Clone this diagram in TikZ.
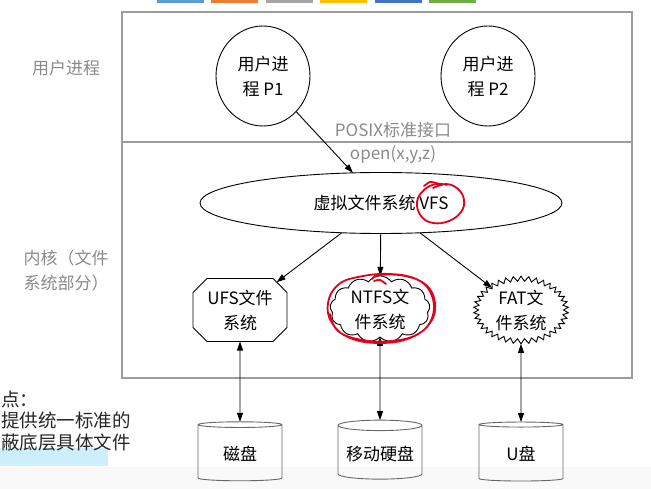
\documentclass[tikz,border=0pt]{standalone}
\usepackage{fontspec}
\setmainfont{Noto Sans CJK SC}
\usepackage{tikz}
\usetikzlibrary{arrows.meta,positioning,shapes.geometric,shapes.misc,shapes.symbols}
\definecolor{frame}{HTML}{9C9C9C}
\definecolor{labelgray}{HTML}{8A8A8A}
\definecolor{pen}{HTML}{E3001B}
\definecolor{hilite}{HTML}{CDEEFB}
\definecolor{barA}{HTML}{5B9BD5}
\definecolor{barB}{HTML}{ED7D31}
\definecolor{barC}{HTML}{A5A5A5}
\definecolor{barD}{HTML}{FFC000}
\definecolor{barE}{HTML}{4472C4}
\definecolor{barF}{HTML}{70AD47}
\newcommand{\diagfont}{\fontsize{17}{25}\selectfont}
\tikzset{
  procnode/.style={ellipse,draw,line width=0.9pt,outer sep=0pt,inner sep=0pt,
    minimum width=94pt,minimum height=100pt,align=center,font=\diagfont},
  vfsnode/.style={ellipse,draw,line width=0.9pt,outer sep=0pt,
    minimum width=362pt,minimum height=61pt,font=\diagfont},
  fsbox/.style={chamfered rectangle,chamfered rectangle sep=7pt,draw,
    line width=0.9pt,outer sep=0pt,inner sep=0pt,minimum width=94pt,
    minimum height=63pt,align=center,font=\diagfont},
  fscloud/.style={cloud,cloud puffs=13,cloud puff arc=110,cloud ignores aspect,
    draw,line width=0.9pt,outer sep=0pt,inner sep=0pt,minimum width=100pt,
    minimum height=62pt,align=center,font=\diagfont},
  fsburst/.style={starburst,starburst points=38,starburst point height=5pt,
    random starburst=0,draw,line width=0.9pt,outer sep=0pt,inner sep=0pt,
    minimum width=95pt,minimum height=65pt,align=center,font=\diagfont},
  drive/.style={cylinder,shape border rotate=90,aspect=0.14,draw=black!60,
    line width=0.9pt,outer sep=0pt,minimum width=84pt,minimum height=59pt,
    font=\diagfont},
  sidelabel/.style={text=labelgray,align=left,font=\diagfont},
  ifacelabel/.style={text=labelgray,font=\diagfont},
  arrow/.style={-{Triangle[length=9pt,width=6pt]},line width=0.9pt},
  dblarrow/.style={{Triangle[length=9pt,width=6pt]}-{Triangle[length=9pt,width=6pt]},
    line width=0.9pt},
  redpen/.style={draw=pen,line width=1.8pt,line cap=round,line join=round}
}

\begin{document}
\begin{tikzpicture}[x=1pt,y=-1pt]
  \useasboundingbox (0,0) rectangle (651,489);
  \fill[black!2.5] (0,467) rectangle (651,489);
  % tab strip at the top
  \foreach \i/\c in {0/barA,1/barB,2/barC,3/barD,4/barE,5/barF}
    \fill[\c] (157+\i*54.4,0) rectangle ++(47,3);

  % layers
  \draw[frame,line width=1.2pt] (122,12) rectangle (632,378);
  \draw[frame,line width=1.2pt] (122,142) -- (632,142);
  \node[sidelabel] (userlbl) at (66,68) {用户进程};
  \node[sidelabel] (kernlbl) at (66,271) {内核（文件\\系统部分）};

  % processes and VFS
  \node[procnode] (p1) at (263,76) {用户进\\程 P1};
  \node[procnode] (p2) at (488,76) {用户进\\程 P2};
  \node[ifacelabel] (posix) at (393,130) {POSIX标准接口};
  \node[ifacelabel] (openc) at (393,155) {open(x,y,z)};
  \node[vfsnode] (vfs) at (381,203) {虚拟文件系统 VFS};

  % concrete file systems
  \node[fsbox] (ufs) at (240,310) {UFS文件\\系统};
  \node[fscloud] (ntfs) at (380,309) {NTFS文\\件系统};
  \node[fsburst] (fat) at (521,310) {FAT文\\件系统};

  % storage
  \node[drive] (disk) at (240,453.5) {磁盘};
  \node[drive] (mdisk) at (380,453.5) {移动硬盘};
  \node[drive] (udisk) at (521,453.5) {U盘};

  \draw[arrow] (p1) -- (vfs);
  \draw[arrow] (vfs) -- (ufs);
  \draw[arrow] (vfs) -- (ntfs);
  \draw[arrow] (vfs) -- (fat);
  \draw[dblarrow] (ufs) -- (disk);
  \draw[dblarrow] (ntfs) -- (mdisk);
  \draw[dblarrow] (fat) -- (udisk);

  % hand marks
  \draw[redpen] plot[smooth,tension=0.7] coordinates {(447,185) (436,184) (424,190)
    (417,202) (421,216) (433,223) (449,221) (461,212) (464,200) (458,189) (446,184) (433,188)};
  \draw[redpen] plot[smooth] coordinates {(424,186) (430,182) (436,183) (442,185)};
  \draw[redpen] plot[smooth,tension=0.7] coordinates {(372,279) (380,275) (405,276)
    (426,285) (435,303) (430,323) (410,338) (380,343) (350,338) (332,323) (328,303)
    (338,285) (358,277) (390,274) (418,280) (432,296) (432,318) (418,334) (392,341)
    (362,340) (338,331) (330,314)};
  \draw[redpen] plot[smooth] coordinates {(374,281) (380,280) (386,284)};

  % note on the left
  \fill[hilite] (0,448) rectangle (108,466);
  \node[anchor=west,align=left,text=black!85,inner sep=0pt,
    font=\fontsize{18.5}{21.5}\selectfont] (note) at (1,421)
    {点：\\提供统一标准的\\蔽底层具体文件};
\end{tikzpicture}
\end{document}
